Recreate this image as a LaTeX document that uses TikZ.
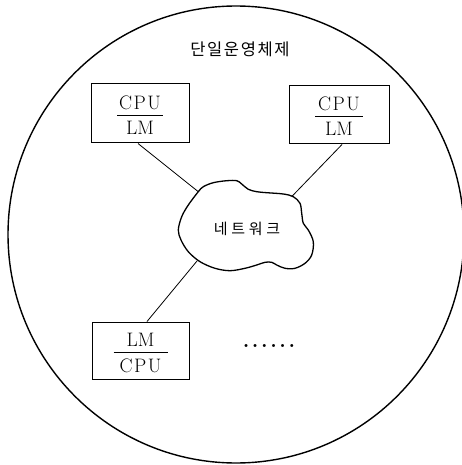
\documentclass[tikz,border=0pt]{standalone}
\usepackage{fontspec}
\newfontfamily\kr{Noto Sans CJK KR}
\begin{document}
\begin{tikzpicture}[x=1pt,y=-1pt,
  unit/.style={draw, line width=1pt, inner sep=0pt},
  lbl/.style={font=\fontsize{19.5}{19.5}\selectfont\addfontfeature{FakeBold=0.6}, inner sep=0pt, anchor=base},
  bar/.style={line width=0.9pt},
  link/.style={line width=0.8pt}]
\useasboundingbox (0,0) rectangle (461,465);

% system boundary
\draw[line width=1.4pt] (236,234.5) ellipse [x radius=228, y radius=228.5];
\node[font=\kr\fontsize{16.5}{16.5}\selectfont\addfontfeature{LetterSpace=10}] (title) at (240,49) {단일운영체제};

% processing units
\node[unit, minimum width=98pt, minimum height=59pt] (p1) at (140,113.5) {};
\node[unit, minimum width=100pt, minimum height=58pt] (p2) at (339,115) {};
\node[unit, minimum width=97pt, minimum height=57pt] (p3) at (140.5,350.5) {};

\node[lbl, yshift=4pt] (p1a) at (p1.center) {C\kern1.5pt P\kern1.5pt U};
\draw[bar] ([xshift=-23pt,yshift=-1.5pt]p1.center) -- ([xshift=23pt,yshift=-1.5pt]p1.center);
\node[lbl, yshift=-21.5pt] (p1b) at (p1.center) {LM};

\node[lbl, yshift=4.3pt] (p2a) at (p2.center) {C\kern1.5pt P\kern1.5pt U};
\draw[bar] ([xshift=-24pt,yshift=-1pt]p2.center) -- ([xshift=24pt,yshift=-1pt]p2.center);
\node[lbl, yshift=-21pt] (p2b) at (p2.center) {LM};

\node[lbl, yshift=3.8pt] (p3a) at (p3.center) {LM};
\draw[bar] ([xshift=-27pt,yshift=-1.8pt]p3.center) -- ([xshift=27pt,yshift=-1.8pt]p3.center);
\node[lbl, yshift=-22.2pt] (p3b) at (p3.center) {C\kern1.5pt P\kern1.5pt U};

% network cloud
\draw[line width=1.3pt] plot[smooth cycle, tension=0.55] coordinates {
  (198.3,191.7) (203.3,186.7) (213.3,182.7) (226.7,180.7) (236.7,180.7)
  (241.7,184) (248.3,189.3) (256.7,191.7) (266.7,192.7) (283.3,194)
  (293.3,196.7) (300,203.3) (301.7,213.3) (303.3,223.3) (308.3,230)
  (313.3,241.7) (311.7,255) (305,263.3) (295,268.3) (285,268.3)
  (276.7,265) (271.7,262.3) (265,262.3) (256.7,265) (245,268.3)
  (230,270.7) (215,268.3) (200,261.7) (188.3,251.7) (181,240)
  (178.3,230) (181.7,216.7) (188.3,205)};
\node[font=\kr\fontsize{15}{15}\selectfont\addfontfeature{LetterSpace=25}] (net) at (247,229) {네트워크};
\coordinate (c1) at (198.3,191.7);
\coordinate (c2) at (292,196.3);
\coordinate (c3) at (197,261);

% links
\draw[link] ([xshift=-2pt]p1.south) -- (c1);
\draw[link] ([xshift=3pt]p2.south) -- (c2);
\draw[link] ([xshift=6.5pt]p3.north) -- (c3);

% further units
\node[font=\fontsize{21}{21}\bfseries\selectfont, inner sep=0pt] (more) at (269,346) {.\kern2.6pt.\kern2.6pt.\kern2.6pt.\kern2.6pt.\kern2.6pt.};
\end{tikzpicture}
\end{document}
